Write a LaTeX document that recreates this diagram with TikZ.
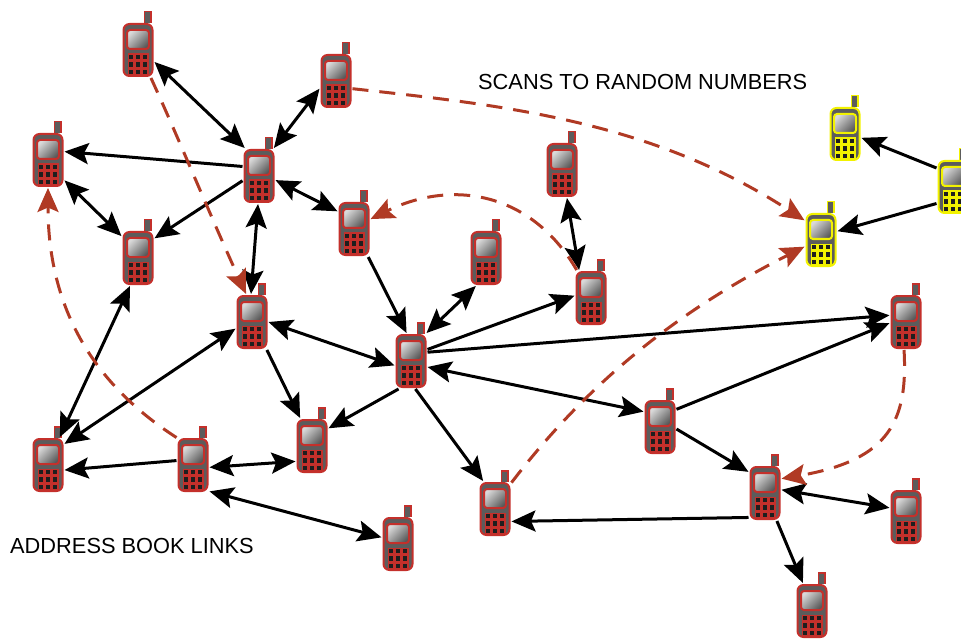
\documentclass[tikz,border=0pt]{standalone}
\usepackage{fontspec}
\setmainfont{Liberation Sans}
\usetikzlibrary{arrows.meta,calc}
\definecolor{phred}{HTML}{C4302B}
\definecolor{phyel}{HTML}{F2F200}
\definecolor{phbody}{HTML}{5C5C5C}
\definecolor{dashred}{HTML}{B03A24}
\definecolor{keyblk}{HTML}{1E1E1E}
\tikzset{
  phonebox/.style={rectangle,minimum width=31pt,minimum height=54pt,inner sep=0pt,outer sep=1pt},
  bighead/.tip={Stealth[length=24pt,width=21pt,inset=4.5pt]},
  link/.style={line width=3pt,black,-bighead},
  twolink/.style={line width=3pt,black,bighead-bighead},
  scan/.style={line width=3pt,dashred,dash pattern=on 16pt off 11pt,-bighead},
  lbl/.style={inner sep=0pt,font=\fontsize{21.8pt}{24pt}\selectfont,anchor=base west},
}
\newcommand{\phonedraw}[4]{%
  \node[phonebox] (#1) at (#2,#3) {};
  \begin{scope}[shift={(#2,#3)}]
    \fill[#4] (5.5,-27) rectangle (13.5,-39);
    \fill[phbody] (7,-27) rectangle (12,-37.5);
    \draw[#4,line width=2pt,fill=phbody,rounded corners=6pt] (-14.5,-26) rectangle (14.5,26);
    \shade[draw=#4,line width=2pt,rounded corners=3pt,top color=white!85!black,bottom color=black!65!white,shading angle=45] (-11,-20) rectangle (11,-1);
    \fill[#4] (-10.5,3.5) rectangle (10.5,25.5);
    \foreach \i in {-7,0,7}\foreach \j in {7,14.5,22}{
      \fill[keyblk] ({\i-2.4},{\j-2.4}) rectangle ({\i+2.4},{\j+2.4});
    }
  \end{scope}
}
\begin{document}
\begin{tikzpicture}[x=1pt,y=-1pt]
\useasboundingbox (0,0) rectangle (961,639);
\clip (0,0) rectangle (961,639);
\foreach \n/\x/\y in {A/138/50,B/336/81,C/48/160,D/259/176,E/354/229,F/562/170,G/486/258,H/138/258,I/252/322,J/591/298,K/411/361,L/906/322,M/660/427,N/48/465,O/193/465,P/312/446,Q/495/509,R/765/493,S/906/517,T/398/544,U/812/611}{
  \phonedraw{\n}{\x}{\y}{phred}
}
\phonedraw{Ya}{845}{134}{phyel}
\phonedraw{Yb}{821}{240}{phyel}
\phonedraw{Yc}{953}{187}{phyel}

\draw[twolink] (A.-36)--(D.117);
\draw[twolink] (B.205)--(D.62);
\draw[link] (D.150)--(C.27);
\draw[twolink] (C.-51)--(H.127);
\draw[link] (D.196)--(H.50);
\draw[twolink] (D.-14)--(E.133);
\draw[twolink] (D.-92)--(I.92);
\draw[link] (E.-63)--(K.99);
\draw[twolink] (H.-106)--(N.67);
\draw[twolink] (I.0)--(K.195);
\draw[twolink] (I.202)--(N.52);
\draw[link] (I.-62)--(P.113);
\draw[twolink] (G.-110)--(K.61);
\draw[link] (K.35)--(J.172);
\draw[twolink] (F.-80)--(J.113);
\draw[link] (K.28)--(L.158);
\draw[twolink] (K.-20)--(M.137);
\draw[link] (M.47)--(L.184);
\draw[link] (M.-7)--(R.128);
\draw[link] (K.-114)--(P.47);
\draw[link] (K.-81)--(Q.113);
\draw[link] (R.-124)--(Q.-37);
\draw[twolink] (R.11)--(S.151);
\draw[link] (R.-67)--(U.108);
\draw[link] (O.165)--(N.-17);
\draw[twolink] (O.-8)--(P.223);
\draw[twolink] (O.-58)--(T.158);
\draw[link] (Yc.131)--(Ya.-13);
\draw[link] (Yc.225)--(Yb.28);

\draw[scan] (A) .. controls (175,130) and (210,215) .. (I.102);
\draw[scan] (B.-25) .. controls (500,105) and (650,120) .. (Yb.130);
\draw[scan] (J.117) .. controls (530,190) and (450,180) .. (E.31);
\draw[scan] (O.121) .. controls (95,385) and (48,310) .. (C.-90);
\draw[scan] (L.-94) .. controls (908,420) and (890,460) .. (R.41);
\draw[scan] (Q.58) .. controls (590,380) and (680,310) .. (Yb.202);

\node[lbl] (scanlabel) at (478,90) {SCANS TO RANDOM NUMBERS};
\node[lbl] (booklabel) at (10,553) {ADDRESS BOOK LINKS};
\end{tikzpicture}
\end{document}
